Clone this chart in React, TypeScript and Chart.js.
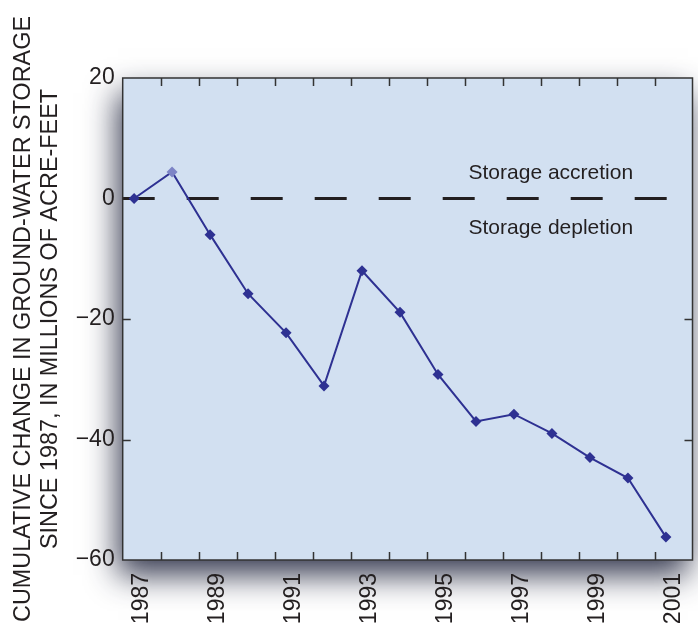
import React, { useEffect, useRef } from "react";
import { Chart, registerables } from "chart.js";

Chart.register(...registerables);

// ---- data ----
const years = [1987, 1988, 1989, 1990, 1991, 1992, 1993, 1994, 1995, 1996, 1997, 1998, 1999, 2000, 2001];
const storageChange = [0, 4.4, -6.0, -15.8, -22.3, -31.1, -12.0, -18.9, -29.2, -37.0, -35.8, -39.0, -43.0, -46.4, -56.2];
const measurementOffset = 0.3; // measurements taken in spring of each year
const xTickLabels = ["1987", "1989", "1991", "1993", "1995", "1997", "1999", "2001"];
const yTickValues = [-60, -40, -20, 0, 20];
const yTitleLines = ["CUMULATIVE CHANGE IN GROUND-WATER STORAGE", "SINCE 1987, IN MILLIONS OF ACRE-FEET"];
const annotationAbove = "Storage accretion";
const annotationBelow = "Storage depletion";

const FONT = "'Liberation Sans', Arial, Helvetica, sans-serif";
const TEXT_COLOR = "#231f20";
const LINE_COLOR = "#2e3192";
const BG = "#d2e0f1";

const framePlugin = {
  id: "frame",
  beforeDraw(chart: any) {
    const { ctx, chartArea: a } = chart;
    ctx.save();
    ctx.shadowColor = "rgba(20,25,50,0.85)";
    ctx.shadowBlur = 30;
    ctx.shadowOffsetX = -5;
    ctx.shadowOffsetY = 15;
    ctx.fillStyle = BG;
    ctx.fillRect(a.left, a.top, a.right - a.left, a.bottom - a.top);
    ctx.restore();
    ctx.save();
    ctx.fillStyle = BG;
    ctx.fillRect(a.left, a.top, a.right - a.left, a.bottom - a.top);
    ctx.restore();
  },
  beforeDatasetsDraw(chart: any) {
    const { ctx, chartArea: a, scales } = chart;
    const y0 = scales.y.getPixelForValue(0);
    ctx.save();
    ctx.strokeStyle = TEXT_COLOR;
    ctx.lineWidth = 3;
    ctx.setLineDash([32, 32]);
    ctx.beginPath();
    ctx.moveTo(a.left, y0);
    ctx.lineTo(a.right, y0);
    ctx.stroke();
    ctx.restore();

    ctx.save();
    ctx.fillStyle = TEXT_COLOR;
    ctx.font = `21px ${FONT}`;
    ctx.textAlign = "center";
    ctx.textBaseline = "alphabetic";
    const cx = scales.x.getPixelForValue(1998.27);
    ctx.fillText(annotationAbove, cx, y0 - 19.5);
    ctx.fillText(annotationBelow, cx, y0 + 35.5);
    ctx.restore();
  },
  afterDatasetsDraw(chart: any) {
    const { ctx, chartArea: a, scales } = chart;
    ctx.save();
    ctx.strokeStyle = "#333";
    ctx.lineWidth = 1.5;
    ctx.strokeRect(a.left, a.top, a.right - a.left, a.bottom - a.top);
    const tl = 8;
    ctx.beginPath();
    for (let yr = 1988; yr <= 2001; yr++) {
      const px = Math.round(scales.x.getPixelForValue(yr)) + 0.5;
      ctx.moveTo(px, a.bottom);
      ctx.lineTo(px, a.bottom - tl);
      ctx.moveTo(px, a.top);
      ctx.lineTo(px, a.top + tl);
    }
    for (const v of yTickValues) {
      if (v === yTickValues[0] || v === yTickValues[yTickValues.length - 1] || v === 0) continue;
      const py = Math.round(scales.y.getPixelForValue(v)) + 0.5;
      ctx.moveTo(a.left, py);
      ctx.lineTo(a.left + tl, py);
      ctx.moveTo(a.right, py);
      ctx.lineTo(a.right - tl, py);
    }
    ctx.stroke();
    ctx.restore();
  },
  afterDraw(chart: any) {
    const { ctx, chartArea: a } = chart;
    const cy = (a.top + a.bottom) / 2;
    ctx.save();
    ctx.fillStyle = TEXT_COLOR;
    ctx.font = `23.4px ${FONT}`;
    ctx.textAlign = "center";
    ctx.textBaseline = "middle";
    const xs = [24, 51];
    yTitleLines.forEach((line, i) => {
      ctx.save();
      ctx.translate(xs[i], cy);
      ctx.rotate(-Math.PI / 2);
      ctx.fillText(line, 0, 0);
      ctx.restore();
    });
    ctx.restore();
  },
};

export default function App() {
  const ref = useRef<HTMLCanvasElement | null>(null);

  useEffect(() => {
    const canvas = ref.current;
    if (!canvas) return;
    const pointColors = storageChange.map((_, i) => (i === 1 ? "#7d84c6" : LINE_COLOR));
    const chart = new Chart(canvas, {
      type: "line",
      data: {
        datasets: [
          {
            data: years.map((yr, i) => ({ x: yr + measurementOffset, y: storageChange[i] })),
            borderColor: LINE_COLOR,
            borderWidth: 2,
            pointStyle: "rectRot",
            pointRadius: 5.5,
            pointBackgroundColor: pointColors,
            pointBorderColor: pointColors,
            pointBorderWidth: 0,
            tension: 0,
            fill: false,
          },
        ],
      },
      options: {
        animation: false,
        responsive: false,
        devicePixelRatio: 1,
        layout: { padding: { top: 78, right: 1, left: 0, bottom: 0 } },
        plugins: { legend: { display: false }, tooltip: { enabled: false } },
        scales: {
          x: {
            type: "linear",
            min: 1987,
            max: 2002,
            grid: { display: false, drawTicks: false },
            border: { display: false },
            afterBuildTicks(scale: any) {
              scale.ticks = xTickLabels.map((l) => ({ value: Number(l) + 0.5 }));
            },
            afterFit(scale: any) {
              scale.height = 67;
              scale.paddingLeft = 0;
              scale.paddingRight = 0;
            },
            ticks: {
              autoSkip: false,
              maxRotation: 90,
              minRotation: 90,
              padding: 13,
              color: TEXT_COLOR,
              font: { family: FONT, size: 23 },
              callback: (_v: any, i: number) => xTickLabels[i],
            },
          },
          y: {
            type: "linear",
            min: -60,
            max: 20,
            grid: { display: false, drawTicks: false },
            border: { display: false },
            afterBuildTicks(scale: any) {
              scale.ticks = yTickValues.map((v) => ({ value: v }));
            },
            afterFit(scale: any) {
              scale.width = 122.7;
              scale.paddingTop = 0;
              scale.paddingBottom = 0;
            },
            ticks: {
              padding: 8,
              color: TEXT_COLOR,
              font: { family: FONT, size: 23 },
              callback: (v: any) => (Number(v) < 0 ? "\u2212" + Math.abs(Number(v)) : String(v)),
            },
          },
        },
      },
      plugins: [framePlugin],
    });
    return () => chart.destroy();
  }, []);

  return (
    <div style={{ position: "absolute", left: 0, top: 0, width: 698, height: 627, background: "#fff" }}>
      <canvas ref={ref} width={698} height={627} />
    </div>
  );
}
